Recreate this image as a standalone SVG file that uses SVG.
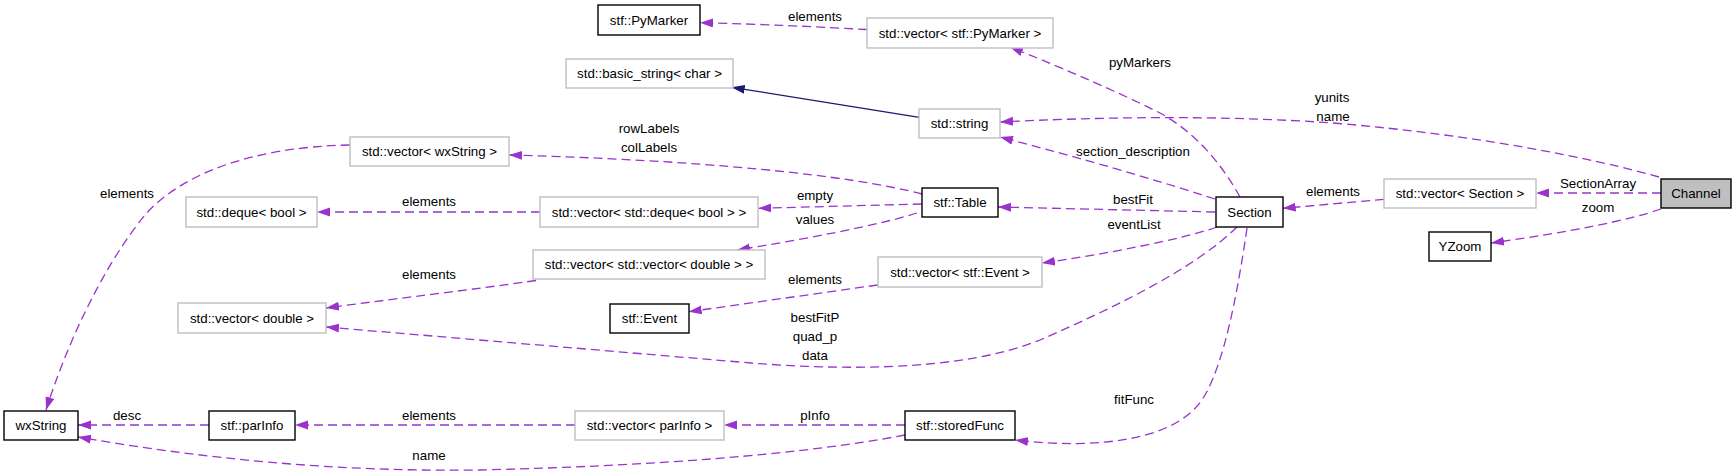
<svg xmlns="http://www.w3.org/2000/svg" width="1736" height="474" viewBox="0 0 1736 474">
<style>
  text { font-family: "Liberation Sans", Arial, sans-serif; font-size: 13.3px; fill: #000; text-anchor: middle; }
  .cls { fill: #fff; stroke: #000; stroke-width: 1.4; }
  .ext { fill: #fff; stroke: #bfbfbf; stroke-width: 1.4; }
  .root { fill: #bfbfbf; stroke: #000; stroke-width: 1.4; }
  .use { fill: none; stroke: #9a32cd; stroke-width: 1.3; stroke-dasharray: 9,5; marker-end: url(#ap); }
  .inh { fill: none; stroke: #191970; stroke-width: 1.3; marker-end: url(#an); }
</style>
<defs>
  <marker id="ap" markerUnits="userSpaceOnUse" markerWidth="14" markerHeight="10" refX="13" refY="4.5" orient="auto">
    <path d="M0,0 L13,4.5 L0,9 z" fill="#9a32cd"/>
  </marker>
  <marker id="an" markerUnits="userSpaceOnUse" markerWidth="14" markerHeight="10" refX="13" refY="4.5" orient="auto">
    <path d="M0,0 L13,4.5 L0,9 z" fill="#191970"/>
  </marker>
</defs>
<rect width="1736" height="474" fill="#fff"/>

<g id="connectors">
  <path class="use" d="M867,29.5 C820,27 760,24 700,22.7"/>
  <text x="815" y="20.5">elements</text>

  <path class="use" d="M1240,197 C1225,170 1200,135 1160,113 C1110,88 1050,63 1010,47"/>
  <text x="1140" y="66.5">pyMarkers</text>

  <path class="inh" d="M919.3,117.3 L731.7,87.3"/>

  <path class="use" d="M1659,177 C1600,160 1480,135 1333,123 C1220,115 1100,117 1000,122"/>
  <text x="1332" y="101.5">yunits</text>
  <text x="1333" y="120.5">name</text>

  <path class="use" d="M1215,199 C1150,178 1080,158 1000,137"/>
  <text x="1133" y="155.5">section_description</text>

  <path class="use" d="M922,194 C850,175 700,160 509,155"/>
  <text x="649" y="132.5">rowLabels</text>
  <text x="649" y="151.5">colLabels</text>

  <path class="use" d="M921.7,204 L758.3,208.3"/>
  <text x="815" y="199.5">empty</text>

  <path class="use" d="M540,212 L317,212"/>
  <text x="429" y="205.5">elements</text>

  <path class="use" d="M350,145 C250,147 180,175 145,215 C100,270 65,350 46,410"/>
  <text x="127" y="197.5">elements</text>

  <path class="use" d="M917,213 C880,225 800,240 737,250"/>
  <text x="815" y="224">values</text>

  <path class="use" d="M536,280.5 C470,290 400,298 326,308"/>
  <text x="429" y="279">elements</text>

  <path class="use" d="M1237,227 C1195,268 1120,305 1040,340 C960,372 840,370 751,363 L326,327"/>
  <text x="815" y="321.5">bestFitP</text>
  <text x="815" y="340.5">quad_p</text>
  <text x="815" y="359.5">data</text>

  <path class="use" d="M1215,212 L998,207"/>
  <text x="1133" y="204">bestFit</text>

  <path class="use" d="M1217,227 C1180,240 1100,255 1042,263"/>
  <text x="1134" y="229">eventList</text>

  <path class="use" d="M877.7,285 L688.7,311.7"/>
  <text x="815" y="283.5">elements</text>

  <path class="use" d="M1247,228 C1238,290 1225,360 1205,395 C1180,440 1100,450 1015,440"/>
  <text x="1134" y="403.5">fitFunc</text>

  <path class="use" d="M1384,199.3 L1282.7,208.3"/>
  <text x="1333" y="195.5">elements</text>

  <path class="use" d="M1661,193 L1536,193"/>
  <text x="1598" y="188">SectionArray</text>

  <path class="use" d="M1661,209 C1630,220 1570,232 1491,243"/>
  <text x="1598" y="211.5">zoom</text>

  <path class="use" d="M905,425 L724,425"/>
  <text x="815" y="419.5">pInfo</text>

  <path class="use" d="M575,425 L295,425"/>
  <text x="429" y="419.5">elements</text>

  <path class="use" d="M209,425 L78,425"/>
  <text x="127" y="419.5">desc</text>

  <path class="use" d="M905,435 C800,455 650,466 480,470 C330,472 200,458 78,437"/>
  <text x="429" y="459.5">name</text>
</g>

<g id="node-pymarker"><rect class="cls" x="598" y="5" width="102" height="30"/><text x="649" y="24.5">stf::PyMarker</text></g>
<g id="node-vec-pymarker"><rect class="ext" x="867" y="18" width="186" height="30"/><text x="960" y="37.5">std::vector&lt; stf::PyMarker &gt;</text></g>
<g id="node-basic-string"><rect class="ext" x="566" y="59" width="167" height="29"/><text x="649.5" y="78">std::basic_string&lt; char &gt;</text></g>
<g id="node-std-string"><rect class="ext" x="919" y="109" width="81" height="29"/><text x="959.5" y="128">std::string</text></g>
<g id="node-vec-wxstring"><rect class="ext" x="350" y="137" width="159" height="29"/><text x="429.5" y="156">std::vector&lt; wxString &gt;</text></g>
<g id="node-deque-bool"><rect class="ext" x="186" y="197" width="131" height="30"/><text x="251.5" y="216.5">std::deque&lt; bool &gt;</text></g>
<g id="node-vec-deque"><rect class="ext" x="540" y="197" width="218" height="30"/><text x="649" y="216.5">std::vector&lt; std::deque&lt; bool &gt; &gt;</text></g>
<g id="node-table"><rect class="cls" x="922" y="188" width="76" height="29"/><text x="960" y="207">stf::Table</text></g>
<g id="node-vv-double"><rect class="ext" x="533" y="250" width="232" height="29"/><text x="649" y="269">std::vector&lt; std::vector&lt; double &gt; &gt;</text></g>
<g id="node-vec-double"><rect class="ext" x="178" y="303" width="148" height="30"/><text x="252" y="322.5">std::vector&lt; double &gt;</text></g>
<g id="node-event"><rect class="cls" x="610" y="304" width="79" height="29"/><text x="649.5" y="323">stf::Event</text></g>
<g id="node-vec-event"><rect class="ext" x="878" y="257" width="164" height="30"/><text x="960" y="276.5">std::vector&lt; stf::Event &gt;</text></g>
<g id="node-section"><rect class="cls" x="1216" y="197" width="67" height="30"/><text x="1249.5" y="216.5">Section</text></g>
<g id="node-vec-section"><rect class="ext" x="1384" y="179" width="152" height="29"/><text x="1460" y="198">std::vector&lt; Section &gt;</text></g>
<g id="node-channel"><rect class="root" x="1661" y="179" width="70" height="29"/><text x="1696" y="198">Channel</text></g>
<g id="node-yzoom"><rect class="cls" x="1429" y="232" width="62" height="29"/><text x="1460" y="251">YZoom</text></g>
<g id="node-wxstring"><rect class="cls" x="4" y="411" width="74" height="29"/><text x="41" y="430">wxString</text></g>
<g id="node-parinfo"><rect class="cls" x="209" y="411" width="86" height="29"/><text x="252" y="430">stf::parInfo</text></g>
<g id="node-vec-parinfo"><rect class="ext" x="575" y="411" width="149" height="29"/><text x="649.5" y="430">std::vector&lt; parInfo &gt;</text></g>
<g id="node-storedfunc"><rect class="cls" x="905" y="411" width="110" height="29"/><text x="960" y="430">stf::storedFunc</text></g>
</svg>
